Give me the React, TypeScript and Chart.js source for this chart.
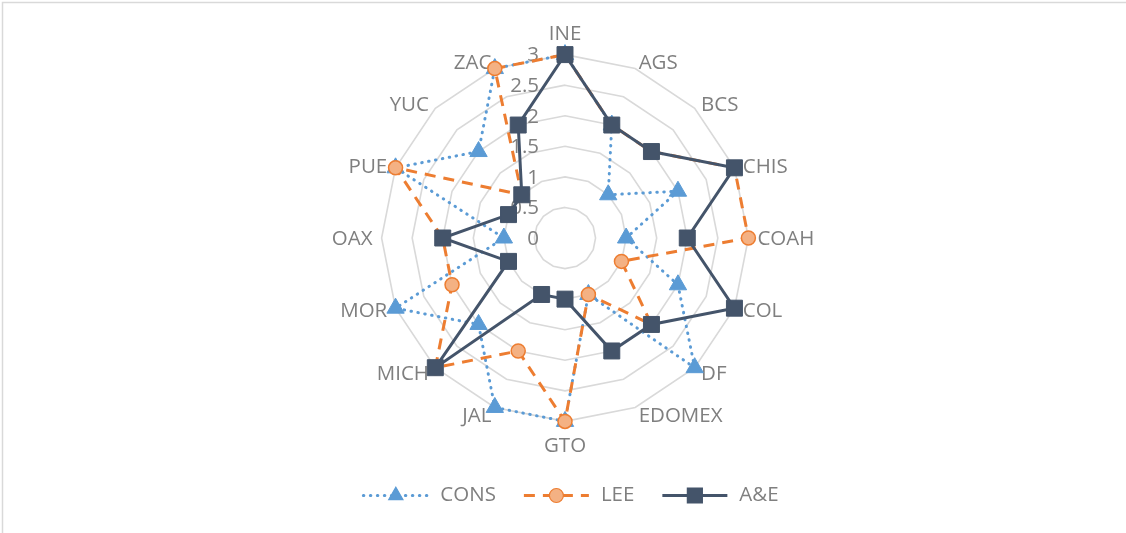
import React, { useEffect, useRef } from 'react';
import { Chart, registerables } from 'chart.js';

Chart.register(...registerables);

// ---- data ----
const categories = ['INE', 'AGS', 'BCS', 'CHIS', 'COAH', 'COL', 'DF', 'EDOMEX', 'GTO', 'JAL', 'MICH', 'MOR', 'OAX', 'PUE', 'YUC', 'ZAC'];
const consValues = [3, 2, 1, 2, 1, 2, 3, 1, 3, 3, 2, 3, 1, 3, 2, 3];
const leeValues = [3, 2, 2, 3, 3, 1, 2, 1, 3, 2, 3, 2, 2, 3, 1, 3];
const aeValues = [3, 2, 2, 3, 2, 3, 2, 2, 1, 1, 3, 1, 2, 1, 1, 2];
const seriesNames = ['CONS', 'LEE', 'A&E'];
const tickValues = [0, 0.5, 1, 1.5, 2, 2.5, 3];
const tickLabels = ['0', '0.5', '1', '1.5', '2', '2.5', '3'];

// ---- styles ----
const FONT = '"Open Sans", "Liberation Sans", sans-serif';
const FONT_SIZE = 20.5;
const TEXT = '#7f7f7f';
const BLUE = '#5b9bd5';
const ORANGE = '#ed7d31';
const ORANGE_FILL = '#f4b183';
const NAVY = '#44546a';

type LegendSpec = { name: string; color: string; dash: number[]; cap: CanvasLineCap; marker: string; fill: string; stroke: string };

const legendSpecs: LegendSpec[] = [
  { name: seriesNames[0], color: BLUE, dash: [0.5, 6.5], cap: 'round', marker: 'triangle', fill: BLUE, stroke: BLUE },
  { name: seriesNames[1], color: ORANGE, dash: [11, 8], cap: 'butt', marker: 'circle', fill: ORANGE_FILL, stroke: ORANGE },
  { name: seriesNames[2], color: NAVY, dash: [], cap: 'butt', marker: 'rect', fill: NAVY, stroke: NAVY },
];

function drawMarker(ctx: CanvasRenderingContext2D, kind: string, x: number, y: number, fill: string, stroke: string) {
  ctx.save();
  ctx.setLineDash([]);
  ctx.fillStyle = fill;
  ctx.strokeStyle = stroke;
  ctx.lineWidth = 1.2;
  ctx.beginPath();
  if (kind === 'triangle') {
    const r = 8.2;
    ctx.moveTo(x, y - r);
    ctx.lineTo(x + r * Math.sin((2 * Math.PI) / 3), y - r * Math.cos((2 * Math.PI) / 3));
    ctx.lineTo(x + r * Math.sin((4 * Math.PI) / 3), y - r * Math.cos((4 * Math.PI) / 3));
    ctx.closePath();
  } else if (kind === 'circle') {
    ctx.arc(x, y, 7, 0, Math.PI * 2);
  } else {
    ctx.rect(x - 7.5, y - 7.5, 15, 15);
  }
  ctx.fill();
  ctx.stroke();
  ctx.restore();
}

const decorPlugin = {
  id: 'decor',
  beforeDraw(chart: any) {
    const ctx: CanvasRenderingContext2D = chart.ctx;
    ctx.save();
    ctx.fillStyle = '#ffffff';
    ctx.fillRect(0, 0, chart.width, chart.height);
    ctx.strokeStyle = '#d9d9d9';
    ctx.lineWidth = 1.5;
    ctx.beginPath();
    ctx.moveTo(2.5, chart.height);
    ctx.lineTo(2.5, 2.5);
    ctx.lineTo(chart.width, 2.5);
    ctx.stroke();
    ctx.restore();
  },
  beforeDatasetsDraw(chart: any) {
    const s = chart.scales.r;
    const ctx: CanvasRenderingContext2D = chart.ctx;
    ctx.save();
    ctx.font = `${FONT_SIZE}px ${FONT}`;
    ctx.fillStyle = TEXT;
    ctx.textAlign = 'right';
    ctx.textBaseline = 'middle';
    tickValues.forEach((v, i) => {
      const d = s.getDistanceFromCenterForValue(v);
      ctx.fillText(tickLabels[i], s.xCenter - 26, s.yCenter - d + 1);
    });
    ctx.restore();
  },
  afterDraw(chart: any) {
    const ctx: CanvasRenderingContext2D = chart.ctx;
    ctx.save();
    ctx.font = `${FONT_SIZE}px ${FONT}`;
    const lineLen = 65;
    const textGap = 12;
    const itemGap = 28;
    const widths = legendSpecs.map((l) => ctx.measureText(l.name).width);
    const total = widths.reduce((a, w) => a + lineLen + textGap + w, 0) + itemGap * (legendSpecs.length - 1);
    let x = 571 - total / 2;
    const y = 495.5;
    legendSpecs.forEach((l, i) => {
      ctx.save();
      ctx.strokeStyle = l.color;
      ctx.lineWidth = 3;
      ctx.lineCap = l.cap;
      ctx.setLineDash(l.dash);
      ctx.beginPath();
      ctx.moveTo(x, y);
      ctx.lineTo(x + lineLen, y);
      ctx.stroke();
      ctx.restore();
      drawMarker(ctx, l.marker, x + lineLen / 2, y, l.fill, l.stroke);
      ctx.fillStyle = TEXT;
      ctx.textAlign = 'left';
      ctx.textBaseline = 'middle';
      ctx.fillText(l.name, x + lineLen + textGap, y);
      x += lineLen + textGap + widths[i] + itemGap;
    });
    ctx.restore();
  },
};

// Excel-style label anchoring: diagonal labels are vertically centred on their anchor point
function centreDiagonalLabels(scale: any) {
  const items = scale._pointLabelItems;
  if (!items) return;
  const n = items.length;
  items.forEach((item: any, i: number) => {
    const angle = (i * 360) / n;
    const h = item.bottom - item.top;
    let shift = 0;
    if (angle === 0) shift = 1;
    else if (angle === 180) shift = 3;
    else if (angle === 90 || angle === 270) shift = 1.5;
    else if (angle < 90 || angle > 270) shift = h / 2 + 3;
    else shift = -h / 2;
    item.y += shift;
    item.top += shift;
    item.bottom += shift;
  });
}

export default function App() {
  const ref = useRef<HTMLCanvasElement>(null);
  useEffect(() => {
    document.body.style.margin = '0';
    const canvas = ref.current;
    if (!canvas) return;
    const chart = new Chart(canvas, {
      type: 'radar',
      data: {
        labels: categories,
        datasets: [
          {
            label: seriesNames[0],
            data: consValues,
            borderColor: BLUE,
            borderWidth: 3,
            borderDash: [0.5, 6.5],
            borderCapStyle: 'round',
            fill: false,
            pointStyle: 'triangle',
            pointRadius: 10,
            pointBackgroundColor: BLUE,
            pointBorderColor: BLUE,
            pointBorderWidth: 1,
            order: 3,
          },
          {
            label: seriesNames[1],
            data: leeValues,
            borderColor: ORANGE,
            borderWidth: 3,
            borderDash: [11, 8],
            fill: false,
            pointStyle: 'circle',
            pointRadius: 7,
            pointBackgroundColor: ORANGE_FILL,
            pointBorderColor: ORANGE,
            pointBorderWidth: 1.5,
            order: 2,
          },
          {
            label: seriesNames[2],
            data: aeValues,
            borderColor: NAVY,
            borderWidth: 3,
            fill: false,
            pointStyle: 'rect',
            pointRadius: 11.3,
            pointBackgroundColor: NAVY,
            pointBorderColor: NAVY,
            pointBorderWidth: 1,
            order: 1,
          },
        ] as any,
      },
      options: {
        responsive: false,
        animation: false,
        layout: { padding: { left: 4, right: 0, top: 22, bottom: 77 } },
        plugins: {
          legend: { display: false },
          tooltip: { enabled: false },
        },
        elements: { line: { tension: 0 } },
        scales: {
          r: {
            min: 0,
            max: 3,
            beginAtZero: true,
            afterBuildTicks: (scale: any) => {
              scale.ticks = tickValues.map((v) => ({ value: v }));
            },
            afterFit: centreDiagonalLabels,
            ticks: { display: false, stepSize: 0.5 },
            angleLines: { display: false },
            grid: { color: '#d9d9d9', lineWidth: 1.6, circular: false },
            pointLabels: {
              color: TEXT,
              padding: 9,
              font: { family: FONT, size: FONT_SIZE },
            },
          },
        },
      } as any,
      plugins: [decorPlugin],
    });
    return () => chart.destroy();
  }, []);
  return (
    <div style={{ width: 1126, height: 533 }}>
      <canvas ref={ref} width={1126} height={533} style={{ display: 'block', width: 1126, height: 533 }} />
    </div>
  );
}
